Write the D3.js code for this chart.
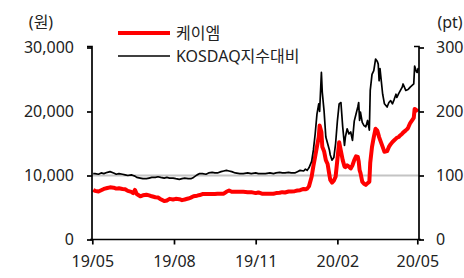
<!DOCTYPE html>
<html><head><meta charset="utf-8">
<script src="https://cdn.jsdelivr.net/npm/d3@7"></script>
<style>
html,body{margin:0;padding:0;background:#fff;}
text{font-family:"Noto Sans","Noto Sans CJK KR",sans-serif;fill:#222;}
</style></head>
<body>
<svg id="c" width="464" height="278"></svg>
<script>
const dates = ["2019-05-02","2019-05-04","2019-05-08","2019-05-11","2019-05-14","2019-05-18","2019-05-21","2019-05-25","2019-05-28","2019-05-31",
"2019-06-04","2019-06-07","2019-06-10","2019-06-14","2019-06-16","2019-06-18","2019-06-20","2019-06-24","2019-06-27","2019-07-01",
"2019-07-04","2019-07-07","2019-07-11","2019-07-14","2019-07-17","2019-07-21","2019-07-24","2019-07-27","2019-07-31","2019-08-03",
"2019-08-07","2019-08-10","2019-08-13","2019-08-17","2019-08-20","2019-08-23","2019-08-27","2019-08-30","2019-09-02","2019-09-06",
"2019-09-09","2019-09-13","2019-09-16","2019-09-19","2019-09-23","2019-09-26","2019-09-29","2019-10-02","2019-10-05","2019-10-09",
"2019-10-14","2019-10-18","2019-10-23","2019-10-27","2019-11-01","2019-11-04","2019-11-08","2019-11-12","2019-11-17","2019-11-21",
"2019-11-24","2019-11-28","2019-12-01","2019-12-04","2019-12-08","2019-12-11","2019-12-15","2019-12-18","2019-12-21","2019-12-25",
"2019-12-27","2019-12-29","2019-12-31","2020-01-03","2020-01-05","2020-01-07","2020-01-09","2020-01-11","2020-01-12","2020-01-14",
"2020-01-15","2020-01-17","2020-01-19","2020-01-21","2020-01-23","2020-01-24","2020-01-26","2020-01-28","2020-01-30","2020-02-01",
"2020-02-03","2020-02-05","2020-02-07","2020-02-09","2020-02-10","2020-02-12","2020-02-14","2020-02-16","2020-02-18","2020-02-20",
"2020-02-22","2020-02-24","2020-02-25","2020-02-26","2020-02-27","2020-02-29","2020-03-02","2020-03-04","2020-03-06","2020-03-08",
"2020-03-09","2020-03-11","2020-03-13","2020-03-15","2020-03-17","2020-03-18","2020-03-19","2020-03-20","2020-03-23","2020-03-25",
"2020-03-28","2020-03-30","2020-04-01","2020-04-03","2020-04-05","2020-04-07","2020-04-08","2020-04-10","2020-04-12","2020-04-14",
"2020-04-15","2020-04-18","2020-04-20","2020-04-21","2020-04-23","2020-04-27","2020-04-28","2020-04-30","2020-05-01","2020-05-02"];

const price = [7750,7600,7500,7700,7900,8050,8150,8100,7950,8000,
7900,7850,7600,7450,7250,7750,7100,6750,6900,7000,
6900,6750,6600,6550,6300,6000,6100,6350,6250,6350,
6300,6150,6250,6400,6550,6750,6850,6950,7100,7100,
7100,7100,7100,7150,7150,7150,7450,7650,7450,7450,
7450,7450,7400,7400,7250,7350,7150,7150,7150,7150,
7250,7300,7400,7350,7500,7500,7550,7650,7700,7900,
7850,7950,8300,9800,11500,13000,14500,16000,17800,16800,
14500,13800,12400,11800,10100,9300,8900,9200,9800,12500,
15200,13800,12400,11400,11300,11600,11400,11100,11600,12400,
13000,12900,12200,10850,10400,9040,8700,8530,8800,9040,
12000,14470,16000,17300,17000,16500,16000,15600,14470,13700,
13800,14470,14900,15240,15500,15770,15900,16020,16300,16540,
16700,17050,17300,17570,18200,19000,20400,20200,20150,20000];

const relative = [103,103,102,104,103,105,106,104,102,103,
102,101,100,101,100,99,97,96,95,95,
96,97,97,98,97,96,97,96,96,95,
94,95,96,95,95,97,101,103,103,102,
104,105,104,104,106,107,108,107,106,104,
103,103,104,103,104,103,103,103,104,103,
104,105,104,104,105,104,104,106,108,107,
110,108,112,122,140,165,196,212,200,261,
230,201,160,150,140,132,124,128,150,185,
212,214,176,147,160,173,165,168,155,185,
196,207,214,186,199,183,178,176,186,171,
233,258,264,282,278,274,248,267,227,212,
207,214,217,212,219,227,222,228,233,238,
243,233,234,235,238,243,271,262,261,268];

const seriesNames = ["케이엠","KOSDAQ지수대비"];
const leftTicks = [0,10000,20000,30000];
const rightTicks = [0,100,200,300];
const xTicks = ["2019-05-01","2019-08-01","2019-11-01","2020-02-01","2020-05-01"];
const baseline = 100;

const parse = d3.timeParse("%Y-%m-%d");
const data = dates.map((d,i)=>({date:parse(d), price:price[i], rel:relative[i]}));

const svg = d3.select("#c");
const x = d3.scaleTime().domain([parse("2019-05-01"), parse("2020-05-01")]).range([92.3, 417.3]);
const yL = d3.scaleLinear().domain([0,30000]).range([239.5,47.5]);
const yR = d3.scaleLinear().domain([0,300]).range([239.5,47.5]);
const xLeft = 92, xRight = 419;

// baseline 100pt
svg.append("line").attr("x1",xLeft).attr("x2",xRight)
  .attr("y1",yR(baseline)).attr("y2",yR(baseline))
  .attr("stroke","#c4c4c4").attr("stroke-width",2);

// red series
svg.append("path").datum(data)
  .attr("fill","none").attr("stroke","#ff0000").attr("stroke-width",4)
  .attr("stroke-linejoin","round")
  .attr("d", d3.line().x(d=>x(d.date)).y(d=>yL(d.price)));

// black series
svg.append("path").datum(data)
  .attr("fill","none").attr("stroke","#000").attr("stroke-width",1.7)
  .attr("stroke-linejoin","round")
  .attr("d", d3.line().x(d=>x(d.date)).y(d=>yR(d.rel)));

// axes
const fmt = d3.format(",");
const gL = svg.append("g").attr("transform",`translate(${xLeft},0)`)
  .call(d3.axisLeft(yL).tickValues(leftTicks).tickFormat(fmt).tickSize(5).tickPadding(13));
const gR = svg.append("g").attr("transform",`translate(${xRight},0)`)
  .call(d3.axisRight(yR).tickValues(rightTicks).tickSize(5).tickPadding(12));
const gX = svg.append("g").attr("transform",`translate(0,${yL(0)})`)
  .call(d3.axisBottom(x).tickValues(xTicks.map(parse)).tickFormat(d3.timeFormat("%y/%m")).tickSize(5).tickPadding(11));
[gL,gR,gX].forEach(g=>{
  g.select(".domain").attr("stroke","#000").attr("stroke-width",1.7);
  g.selectAll(".tick line").attr("stroke","#000").attr("stroke-width",1.7);
  g.selectAll(".tick text").attr("font-size",16).attr("fill","#222")
   .style("font-family",'"Noto Sans","Noto Sans CJK KR",sans-serif');
});
gX.select(".domain").attr("d",`M${xLeft-2},0H${xRight+2}`);
gR.select(".domain").attr("d",`M0,${yR(0)}V${yR(300)-1}H-5`);
gL.select(".domain").attr("d",`M0,${yL(0)}V${yL(30000)-1}H-5`);

// unit labels
svg.append("text").attr("x",41).attr("y",28).attr("text-anchor","middle").attr("font-size",16).text("(원)");
svg.append("text").attr("x",450).attr("y",28).attr("text-anchor","middle").attr("font-size",16).text("(pt)");

// legend
const lg = svg.append("g");
lg.append("line").attr("x1",118).attr("x2",170).attr("y1",33).attr("y2",33).attr("stroke","#ff0000").attr("stroke-width",4);
lg.append("text").attr("x",176).attr("y",33).attr("dy","0.35em").attr("font-size",16).text(seriesNames[0]);
lg.append("line").attr("x1",118).attr("x2",170).attr("y1",56).attr("y2",56).attr("stroke","#000").attr("stroke-width",1.7);
lg.append("text").attr("x",176).attr("y",56).attr("dy","0.35em").attr("font-size",16).text(seriesNames[1]);
</script>
</body></html>
